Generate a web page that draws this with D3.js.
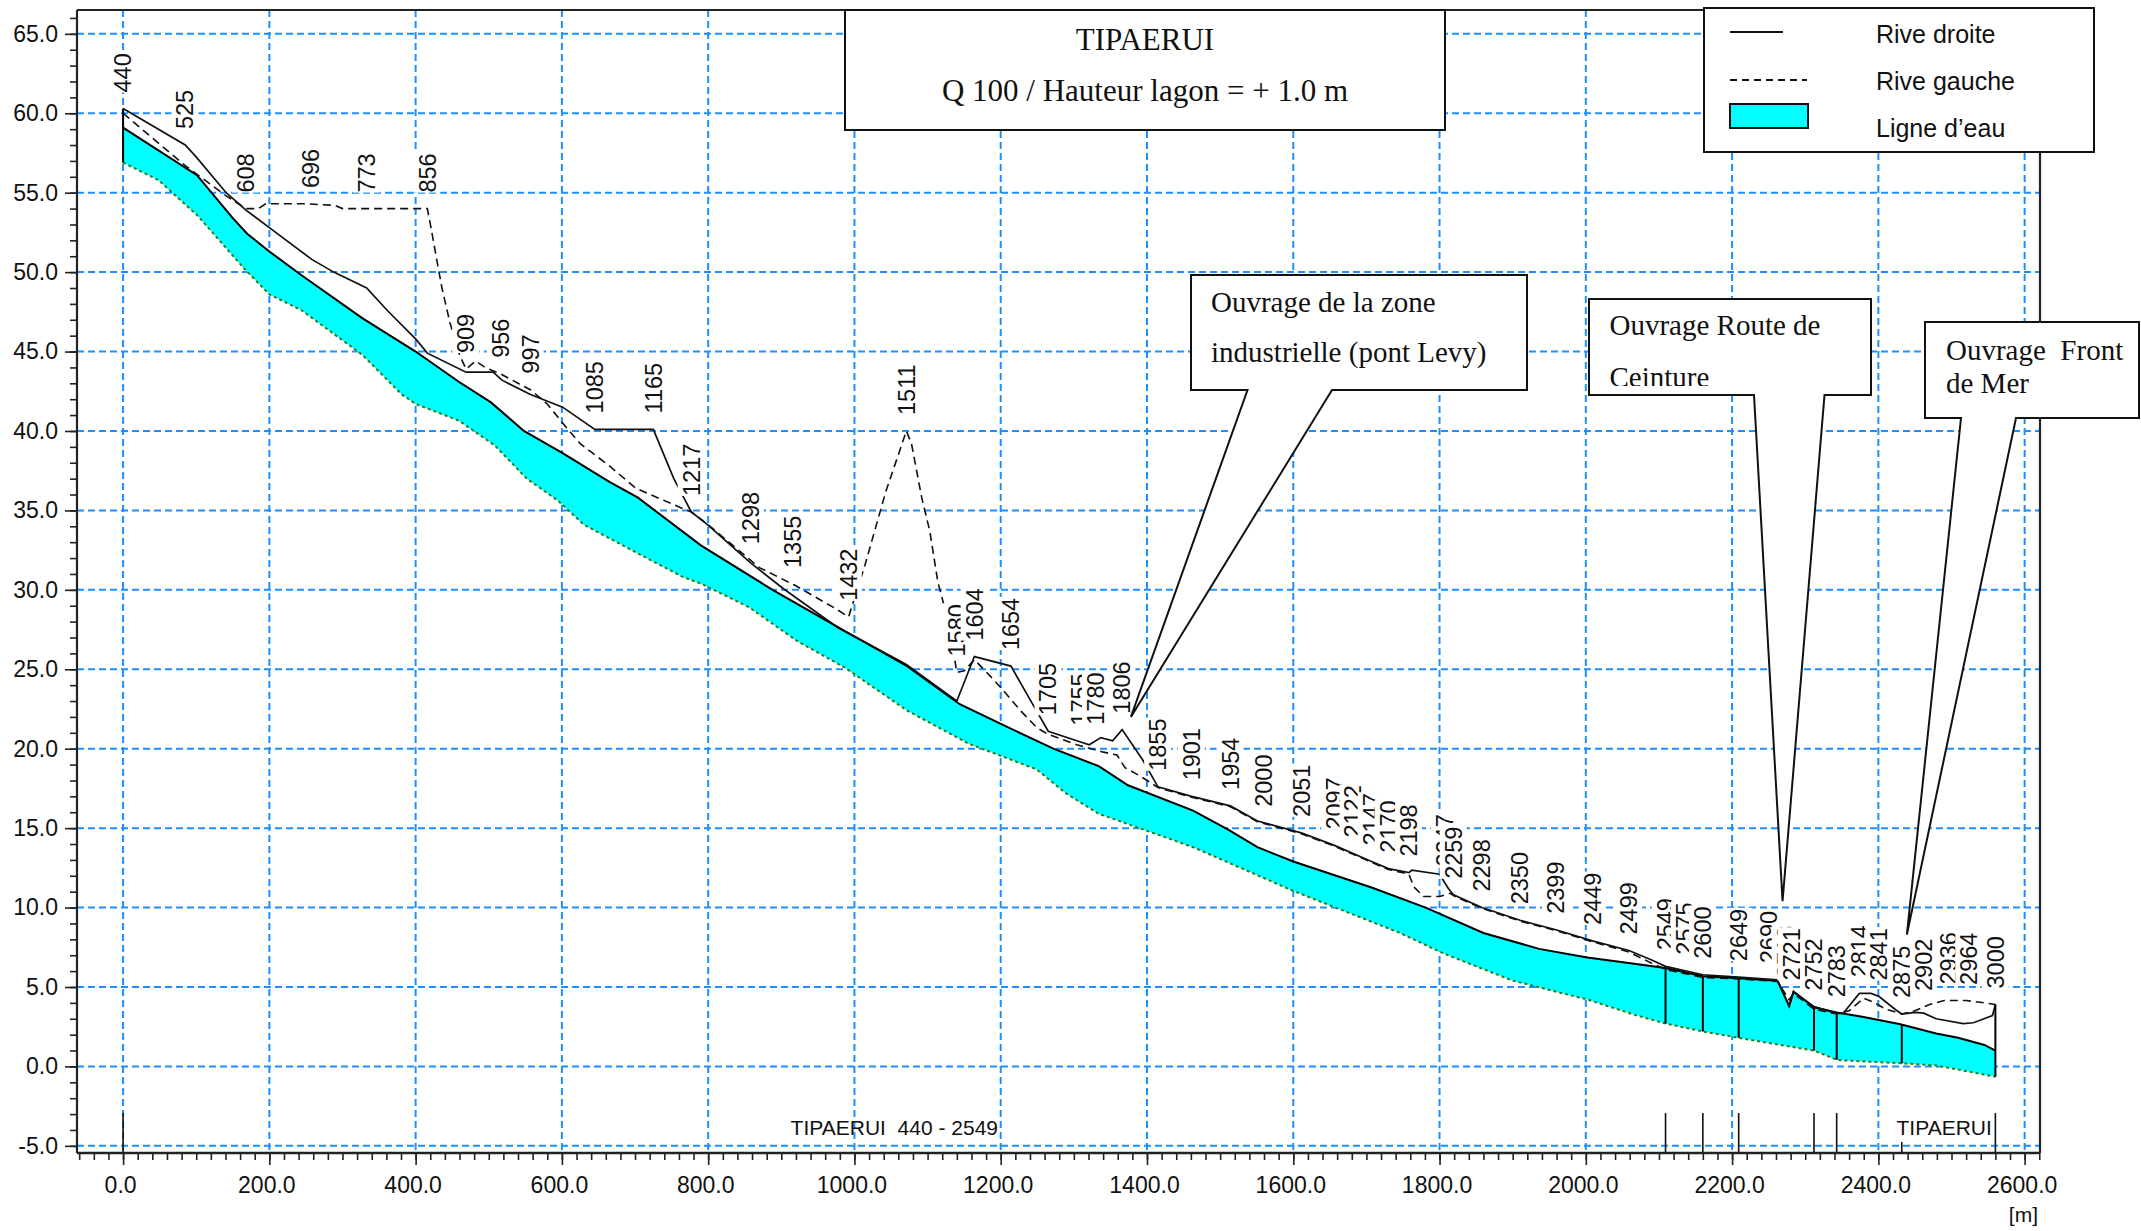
<!DOCTYPE html>
<html>
<head>
<meta charset="utf-8">
<script src="https://cdn.jsdelivr.net/npm/d3@7"></script>
<style>
  html, body { margin: 0; padding: 0; background: #fff; }
  svg { display: block; }
  text { font-family: "Liberation Sans", Arial, sans-serif; fill: #111; }
  .serif { font-family: "Liberation Serif", "Times New Roman", serif; }
</style>
</head>
<body>
<svg id="chart" width="2141" height="1231"></svg>
<script>
// ---- Long profile data (chainage in m, elevation in m) ----
const profileNames = ["440","525","608","696","773","856","909","956","997","1085","1165","1217","1298","1355","1432","1511","1580","1604","1654","1705","1755","1780","1806","1855","1901","1954","2000","2051","2097","2122","2147","2170","2198","2247","2259","2298","2350","2399","2449","2499","2549","2575","2600","2649","2690","2713","2721","2752","2783","2814","2841","2875","2902","2936","2964","3000"];
const profileChainage = [0,85,168,256,333,416,469,516,557,645,725,777,858,915,992,1071,1140,1164,1214,1265,1308,1330,1366,1415,1461,1514,1560,1611,1657,1682,1707,1730,1758,1807,1819,1858,1910,1959,2009,2059,2109,2135,2160,2209,2250,2273,2281,2312,2343,2374,2401,2432,2462,2496,2524,2560];

// Rive droite (solid)
const rightBank = [[0,60.3],[85,58.0],[99,57.3],[141,55.0],[168,53.9],[200,52.8],[258,50.8],[288,50.0],[333,49.0],[361,47.6],[400,45.8],[416,44.9],[469,43.7],[506,43.7],[518,43.2],[557,42.3],[601,41.5],[645,40.1],[725,40.1],[753,37.0],[777,34.9],[799,34.1],[858,31.7],[902,30.1],[978,27.6],[1011,26.8],[1071,25.3],[1140,23.0],[1164,25.8],[1214,25.2],[1245,22.7],[1265,21.1],[1304,20.5],[1321,20.25],[1337,20.7],[1353,20.5],[1366,21.2],[1394,19.3],[1415,17.6],[1461,17.0],[1514,16.4],[1551,15.45],[1611,14.7],[1657,13.9],[1707,12.9],[1730,12.45],[1758,12.2],[1762,12.35],[1800,12.1],[1812,11.2],[1819,10.8],[1858,10.0],[1910,9.2],[1959,8.6],[2009,7.9],[2059,7.3],[2090,6.7],[2109,6.3],[2160,5.77],[2209,5.62],[2262,5.45],[2278,3.8],[2284,4.7],[2312,3.76],[2343,3.34],[2352,3.35],[2374,4.6],[2390,4.6],[2401,4.4],[2424,3.55],[2432,3.3],[2450,3.4],[2462,3.35],[2479,3.0],[2516,2.7],[2530,2.75],[2556,3.2],[2560,3.9]];

// Rive gauche (dashed)
const leftBank = [[0,60.0],[85,56.7],[141,54.8],[168,54.0],[185,54.0],[195,54.3],[250,54.3],[290,54.2],[300,54.0],[416,54.0],[421,52.8],[428,51.0],[436,49.0],[447,46.8],[460,44.8],[469,43.9],[482,44.4],[495,44.0],[516,43.6],[540,43.0],[557,42.6],[580,41.7],[601,40.5],[625,39.2],[665,37.8],[701,36.4],[761,35.2],[777,34.9],[800,34.1],[870,31.4],[918,30.3],[973,28.85],[992,28.3],[1014,31.5],[1043,36.2],[1071,40.0],[1078,39.2],[1092,35.8],[1103,33.7],[1114,30.5],[1125,28.6],[1134,26.5],[1140,24.8],[1150,24.9],[1164,25.6],[1185,24.6],[1201,23.8],[1228,22.35],[1250,21.3],[1265,20.9],[1283,20.6],[1304,20.25],[1339,19.8],[1359,19.6],[1370,18.8],[1386,18.4],[1402,17.95],[1415,17.55],[1461,16.95],[1514,16.35],[1551,15.4],[1611,14.65],[1657,13.85],[1707,12.85],[1730,12.4],[1758,12.1],[1765,11.3],[1778,10.7],[1800,10.7],[1815,10.9],[1819,10.75],[1858,9.95],[1910,9.15],[1959,8.55],[2009,7.85],[2059,7.2],[2090,6.5],[2109,6.1],[2160,5.6],[2209,5.5],[2262,5.35],[2278,4.2],[2284,4.6],[2312,3.6],[2343,3.3],[2360,3.5],[2380,4.3],[2395,4.0],[2410,3.6],[2432,3.3],[2450,3.5],[2470,3.9],[2490,4.15],[2520,4.15],[2545,4.0],[2560,3.9]];

// Ligne d'eau (water surface) and channel bed
const waterLevel = [[0,59.1],[101,56.1],[150,53.4],[170,52.4],[200,51.3],[244,49.8],[327,47.1],[400,45.0],[459,43.1],[503,41.8],[548,40.0],[601,38.6],[665,36.8],[704,35.8],[790,32.8],[888,30.0],[987,27.4],[1072,25.2],[1144,22.8],[1203,21.5],[1272,20.0],[1334,18.9],[1374,17.7],[1463,16.1],[1511,14.9],[1551,13.8],[1600,12.9],[1708,11.25],[1781,10.0],[1860,8.4],[1936,7.4],[2002,6.85],[2061,6.5],[2109,6.2],[2160,5.67],[2209,5.55],[2262,5.4],[2278,3.8],[2284,4.7],[2312,3.72],[2343,3.4],[2378,3.13],[2430,2.65],[2479,2.07],[2509,1.8],[2545,1.35],[2560,1.0]];
const bedLevel = [[0,56.9],[48,55.8],[101,53.6],[165,50.25],[200,48.6],[244,47.6],[327,44.8],[381,42.3],[400,41.7],[459,40.65],[508,39.1],[552,37.0],[595,35.6],[630,34.1],[716,32.0],[766,30.8],[790,30.4],[856,28.9],[921,26.8],[987,25.1],[1072,22.4],[1157,20.3],[1249,18.7],[1289,17.2],[1334,15.9],[1365,15.4],[1463,13.8],[1600,11.05],[1746,8.4],[1806,7.1],[1900,5.4],[2003,4.2],[2068,3.23],[2109,2.7],[2160,2.2],[2209,1.8],[2312,1.0],[2344,0.4],[2430,0.2],[2479,0.06],[2509,-0.2],[2560,-0.65]];

// Structures (vertical walls), reach markers and reach names
const structureChainage = [2109, 2160, 2209, 2312, 2343, 2432];
const reachMarks = [0, 2109, 2160, 2209, 2312, 2343, 2560];
const reachMarksShort = [2432];
const reachNames = ["TIPAERUI  440 - 2549", "TIPAERUI"];
const reachSpans = [[0, 2109], [2420, 2560]];

// Axis ticks
const xTicks = [0,200,400,600,800,1000,1200,1400,1600,1800,2000,2200,2400,2600];
const yTicks = [-5,0,5,10,15,20,25,30,35,40,45,50,55,60,65];

// Texts
const titleLines = ["TIPAERUI", "Q 100 / Hauteur lagon = + 1.0 m"];
const legendLabels = ["Rive droite", "Rive gauche", "Ligne d\u2019eau"];
const calloutTexts = [["Ouvrage de la zone", "industrielle (pont Levy)"], ["Ouvrage Route de", "Ceinture"], ["Ouvrage  Front", "de Mer"]];
const calloutTargets = [[1378, 22.0], [2269, 10.4], [2439, 8.3]];

// ---- Drawing ----
const svg = d3.select("#chart");
const W = 2141, H = 1231;
const L = 77, R = 2040, T = 10, B = 1153;
const x = d3.scaleLinear().domain([-63, 2621]).range([L, R]);
const y = d3.scaleLinear().domain([-5.45, 66.5]).range([B, T]);
const line = d3.line().x(d => x(d[0])).y(d => y(d[1]));

function interp(series, c) {
  for (let i = 0; i < series.length - 1; i++) {
    const a = series[i], b = series[i + 1];
    if (c >= a[0] && c <= b[0]) {
      const t = b[0] === a[0] ? 0 : (c - a[0]) / (b[0] - a[0]);
      return a[1] + t * (b[1] - a[1]);
    }
  }
  return c < series[0][0] ? series[0][1] : series[series.length - 1][1];
}

svg.append("rect").attr("width", W).attr("height", H).attr("fill", "#fff");

// grid
const grid = svg.append("g").attr("stroke", "#1e8fff").attr("stroke-width", 2).attr("stroke-dasharray", "7,4");
grid.selectAll(".h").data(yTicks).join("line")
  .attr("x1", L).attr("x2", R).attr("y1", d => y(d)).attr("y2", d => y(d));
grid.selectAll(".v").data(xTicks).join("line")
  .attr("x1", d => x(d)).attr("x2", d => x(d)).attr("y1", T).attr("y2", B);

// water body
const poly = waterLevel.concat(bedLevel.slice().reverse());
svg.append("path").attr("d", line(poly) + "Z").attr("fill", "#00ffff");
svg.append("path").attr("d", line(bedLevel)).attr("fill", "none")
  .attr("stroke", "#2b7f1e").attr("stroke-width", 2).attr("stroke-dasharray", "3,3");
svg.append("path").attr("d", line(waterLevel)).attr("fill", "none")
  .attr("stroke", "#000").attr("stroke-width", 2);

// structures
svg.append("g").selectAll("line").data(structureChainage).join("line")
  .attr("x1", d => x(d)).attr("x2", d => x(d))
  .attr("y1", d => y(interp(bedLevel, d))).attr("y2", d => y(interp(waterLevel, d)))
  .attr("stroke", "#000").attr("stroke-width", 2);

// banks
svg.append("path").attr("d", line(leftBank)).attr("fill", "none")
  .attr("stroke", "#111").attr("stroke-width", 1.6).attr("stroke-dasharray", "8,5");
svg.append("path").attr("d", line(rightBank)).attr("fill", "none")
  .attr("stroke", "#111").attr("stroke-width", 1.7);

// end sections
[profileChainage[0], profileChainage[profileChainage.length - 1]].forEach(c => {
  svg.append("line").attr("x1", x(c)).attr("x2", x(c))
    .attr("y1", y(interp(bedLevel, c)))
    .attr("y2", y(Math.max(interp(rightBank, c), interp(leftBank, c))))
    .attr("stroke", "#000").attr("stroke-width", 2);
});

// profile labels (rotated, opaque background so later labels cover earlier ones)
const labelsG = svg.append("g");
profileNames.forEach((n, i) => {
  const c = profileChainage[i];
  const top = Math.max(interp(rightBank, c), interp(leftBank, c));
  const g = labelsG.append("g").attr("transform", `translate(${x(c)},${y(top) - 16}) rotate(-90)`);
  const r = g.append("rect").attr("fill", "#fff");
  const t = g.append("text").attr("dy", "0.35em").attr("font-size", 23.5).text(n);
  const bb = t.node().getBBox();
  r.attr("x", bb.x).attr("y", bb.y - 1).attr("width", bb.width + 1).attr("height", bb.height + 1);
});

// reach markers along the bottom
svg.append("g").selectAll("line").data(reachMarks).join("line")
  .attr("x1", d => x(d)).attr("x2", d => x(d)).attr("y1", 1113).attr("y2", B)
  .attr("stroke", "#111").attr("stroke-width", 1.6);
svg.append("g").selectAll("line").data(reachMarksShort).join("line")
  .attr("x1", d => x(d)).attr("x2", d => x(d)).attr("y1", 1142).attr("y2", B)
  .attr("stroke", "#111").attr("stroke-width", 1.6);
svg.append("g").selectAll("text").data(reachNames).join("text")
  .attr("x", (d, i) => (x(reachSpans[i][0]) + x(reachSpans[i][1])) / 2)
  .attr("y", 1135).attr("text-anchor", "middle").attr("font-size", 21)
  .style("white-space", "pre").text(d => d);

// axes
function styleAxis(g) {
  g.select(".domain").remove();
  g.selectAll(".tick line").attr("stroke", "#222").attr("stroke-width", 1.6);
  g.selectAll("text").attr("font-family", "\"Liberation Sans\", Arial, sans-serif")
    .attr("font-size", 23).attr("fill", "#1a1a1a");
}
svg.append("g").attr("transform", `translate(${L},0)`)
  .call(d3.axisLeft(y).tickValues(d3.range(-5, 67, 1)).tickSize(7).tickFormat(""))
  .call(styleAxis);
svg.append("g").attr("transform", `translate(${L},0)`)
  .call(d3.axisLeft(y).tickValues(yTicks).tickSize(12).tickPadding(7).tickFormat(d => d.toFixed(1)))
  .call(styleAxis);
svg.append("g").attr("transform", `translate(0,${B})`)
  .call(d3.axisBottom(x).tickValues(d3.range(-60, 2621, 20)).tickSize(7).tickFormat(""))
  .call(styleAxis);
const xa = svg.append("g").attr("transform", `translate(0,${B})`)
  .call(d3.axisBottom(x).tickValues(xTicks).tickSize(12).tickPadding(12).tickFormat(d => d.toFixed(1)))
  .call(styleAxis);
xa.selectAll("text").attr("dx", -3);
svg.append("text").attr("x", 2038).attr("y", 1222).attr("text-anchor", "end")
  .attr("font-size", 21).text("[m]");

// frame
const frame = svg.append("g").attr("stroke", "#222").attr("stroke-width", 2.2);
frame.append("line").attr("x1", L).attr("x2", L).attr("y1", T).attr("y2", B);
frame.append("line").attr("x1", L).attr("x2", R).attr("y1", B).attr("y2", B).attr("stroke-width", 2.6);
frame.append("line").attr("x1", L).attr("x2", R).attr("y1", T).attr("y2", T);
frame.append("line").attr("x1", R).attr("x2", R).attr("y1", T).attr("y2", B);

// title box
svg.append("rect").attr("x", 845).attr("y", 10).attr("width", 600).attr("height", 120)
  .attr("fill", "#fff").attr("stroke", "#111").attr("stroke-width", 2);
svg.append("text").attr("class", "serif").attr("x", 1145).attr("y", 50)
  .attr("text-anchor", "middle").attr("font-size", 31).text(titleLines[0]);
svg.append("text").attr("class", "serif").attr("x", 1145).attr("y", 101)
  .attr("text-anchor", "middle").attr("font-size", 31).text(titleLines[1]);

// legend
const lg = svg.append("g");
lg.append("rect").attr("x", 1704).attr("y", 8).attr("width", 390).attr("height", 144)
  .attr("fill", "#fff").attr("stroke", "#111").attr("stroke-width", 2);
lg.append("line").attr("x1", 1730).attr("x2", 1783).attr("y1", 32).attr("y2", 32)
  .attr("stroke", "#111").attr("stroke-width", 1.8);
lg.append("line").attr("x1", 1730).attr("x2", 1807).attr("y1", 80).attr("y2", 80)
  .attr("stroke", "#111").attr("stroke-width", 1.8).attr("stroke-dasharray", "7,5");
lg.append("rect").attr("x", 1730).attr("y", 104).attr("width", 78).attr("height", 24)
  .attr("fill", "#00ffff").attr("stroke", "#111").attr("stroke-width", 2);
lg.selectAll(".lt").data(legendLabels).join("text")
  .attr("x", 1876).attr("y", (d, i) => 43 + i * 47).attr("font-size", 25).text(d => d);

// callouts
const boxes = [
  {x0: 1191, y0: 275, x1: 1527, y1: 390, b0: 1247.5, b1: 1332, tx: 1211, ty: [311.7, 361.7]},
  {x0: 1589, y0: 299, x1: 1871, y1: 395, b0: 1754, b1: 1824.5, tx: 1609.5, ty: [335, 387]},
  {x0: 1925, y0: 322, x1: 2139, y1: 418, b0: 1961, b1: 2016, tx: 1946, ty: [360, 393]}
];
const defs = svg.append("defs");
boxes.forEach((b, i) => {
  const tip = calloutTargets[i];
  const tx = x(tip[0]), ty = y(tip[1]);
  const p = d3.path();
  p.moveTo(b.x0, b.y0); p.lineTo(b.x1, b.y0); p.lineTo(b.x1, b.y1); p.lineTo(b.b1, b.y1);
  p.lineTo(tx, ty); p.lineTo(b.b0, b.y1); p.lineTo(b.x0, b.y1); p.closePath();
  svg.append("path").attr("d", p.toString()).attr("fill", "#fff")
    .attr("stroke", "#111").attr("stroke-width", 2).attr("stroke-linejoin", "miter");
  defs.append("clipPath").attr("id", "cb" + i).append("rect")
    .attr("x", b.x0 + 2).attr("y", b.y0 + 2).attr("width", b.x1 - b.x0 - 4).attr("height", b.y1 - b.y0 - 11);
  const tg = svg.append("g").attr("clip-path", `url(#cb${i})`);
  calloutTexts[i].forEach((s, k) => {
    tg.append("text").attr("class", "serif").attr("x", b.tx).attr("y", b.ty[k])
      .attr("font-size", 29).style("white-space", "pre").text(s);
  });
});
</script>
</body>
</html>
